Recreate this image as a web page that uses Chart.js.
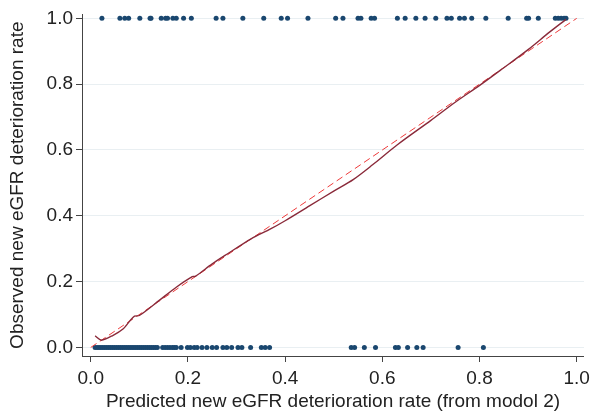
<!DOCTYPE html>
<html>
<head>
<meta charset="utf-8">
<script src="https://cdn.jsdelivr.net/npm/chart.js@4/dist/chart.umd.min.js"></script>
<style>
  html, body { margin: 0; padding: 0; background: #fff; }
  #wrap { width: 595px; height: 413px; }
</style>
</head>
<body>
<div id="wrap"><canvas id="chart" width="595" height="413"></canvas></div>
<script>
/* DATA */
// observed = 1 (top row of dots), predicted values
const predEvent = [0.023, 0.060, 0.070, 0.078, 0.101, 0.122, 0.124, 0.145, 0.154, 0.158,
  0.169, 0.176, 0.191, 0.207, 0.258, 0.272, 0.313, 0.356, 0.392, 0.405, 0.447, 0.504,
  0.519, 0.550, 0.556, 0.577, 0.584, 0.631, 0.647, 0.669, 0.688, 0.710, 0.733, 0.742,
  0.759, 0.769, 0.784, 0.813, 0.859, 0.897, 0.901, 0.921, 0.956, 0.962, 0.968, 0.974, 0.978];

// observed = 0 (bottom row of dots)
const predNoEvent = [0.009, 0.013, 0.017, 0.021, 0.025, 0.029, 0.033, 0.037, 0.041, 0.045,
  0.049, 0.053, 0.057, 0.061, 0.065, 0.069, 0.073, 0.077, 0.081, 0.085, 0.089, 0.093,
  0.097, 0.101, 0.105, 0.109, 0.113, 0.117, 0.121, 0.125, 0.129, 0.133, 0.137,
  0.148, 0.153, 0.158, 0.163, 0.168, 0.172, 0.176, 0.186, 0.199, 0.205, 0.213, 0.219,
  0.229, 0.239, 0.250, 0.259, 0.272, 0.280, 0.290, 0.303, 0.311, 0.329, 0.351, 0.359,
  0.368, 0.536, 0.543, 0.563, 0.586, 0.627, 0.633, 0.652, 0.671, 0.684, 0.756, 0.808];

// smoothed calibration curve
const curveX = [0.009, 0.022, 0.046, 0.067, 0.080, 0.090, 0.100, 0.141, 0.176, 0.209, 0.215,
  0.250, 0.281, 0.330, 0.370, 0.400, 0.450, 0.500, 0.540, 0.580, 0.631, 0.700, 0.750,
  0.801, 0.850, 0.900, 0.944, 0.978];
const curveY = [0.035, 0.022, 0.037, 0.057, 0.080, 0.095, 0.097, 0.143, 0.183, 0.215, 0.216,
  0.254, 0.284, 0.330, 0.360, 0.385, 0.430, 0.475, 0.510, 0.555, 0.616, 0.690, 0.745,
  0.797, 0.850, 0.905, 0.958, 0.997];

// reference line (perfect calibration)
const diagX = [0, 1];
const diagY = [0, 1];

const tickVals = [0, 0.2, 0.4, 0.6, 0.8, 1.0];

const xTitle = "Predicted new eGFR deterioration rate (from modol 2)";
const yTitle = "Observed new eGFR deterioration rate";

/* CHART */
const font = { family: "'Liberation Sans', Arial, sans-serif", size: 19 };
const dotColor = "#1a476f";

const ctx = document.getElementById("chart");

new Chart(ctx, {
  type: "scatter",
  data: {
    datasets: [
      {
        label: "curve",
        type: "line",
        data: curveX.map((x, i) => ({ x: x, y: curveY[i] })),
        borderColor: "#8a2a3a",
        borderWidth: 1.4,
        pointRadius: 0,
        tension: 0.3,
        fill: false,
        order: 0
      },
      {
        label: "reference",
        type: "line",
        data: diagX.map((x, i) => ({ x: x, y: diagY[i] })),
        borderColor: "#ee3a3a",
        borderWidth: 1,
        borderDash: [7, 4],
        pointRadius: 0,
        fill: false,
        order: 1
      },
      {
        label: "observed 1",
        data: predEvent.map(x => ({ x: x, y: 1 })),
        backgroundColor: dotColor,
        borderWidth: 0,
        pointRadius: 2.5,
        order: 2
      },
      {
        label: "observed 0",
        data: predNoEvent.map(x => ({ x: x, y: 0 })),
        backgroundColor: dotColor,
        borderWidth: 0,
        pointRadius: 2.5,
        order: 2
      }
    ]
  },
  options: {
    responsive: false,
    animation: false,
    layout: { padding: { top: 5, right: 7, left: 0, bottom: 0 } },
    plugins: {
      legend: { display: false },
      tooltip: { enabled: false }
    },
    scales: {
      x: {
        type: "linear",
        min: -0.018,
        max: 1.015,
        afterBuildTicks: s => { s.ticks = tickVals.map(v => ({ value: v })); },
        afterFit: s => { s.height = 57; },
        ticks: {
          color: "#222",
          font: font,
          padding: 5,
          maxRotation: 0,
          callback: v => v.toFixed(1)
        },
        grid: {
          drawOnChartArea: false,
          drawTicks: true,
          tickLength: 6,
          tickColor: "#444"
        },
        border: { display: true, color: "#444", width: 1 },
        title: {
          display: true,
          text: xTitle,
          color: "#222",
          font: font,
          padding: { top: 0, bottom: 0 }
        }
      },
      y: {
        type: "linear",
        min: -0.026,
        max: 1.012,
        afterBuildTicks: s => { s.ticks = tickVals.map(v => ({ value: v })); },
        afterFit: s => { s.width = 82; },
        ticks: {
          color: "#222",
          font: font,
          padding: 3,
          callback: v => v.toFixed(1)
        },
        grid: {
          color: "#e9eff2",
          lineWidth: 1,
          drawTicks: true,
          tickLength: 6,
          tickColor: "#444"
        },
        border: { display: true, color: "#444", width: 1 },
        title: {
          display: true,
          text: yTitle,
          color: "#222",
          font: font,
          padding: { top: 6, bottom: 0 }
        }
      }
    }
  }
});
</script>
</body>
</html>
